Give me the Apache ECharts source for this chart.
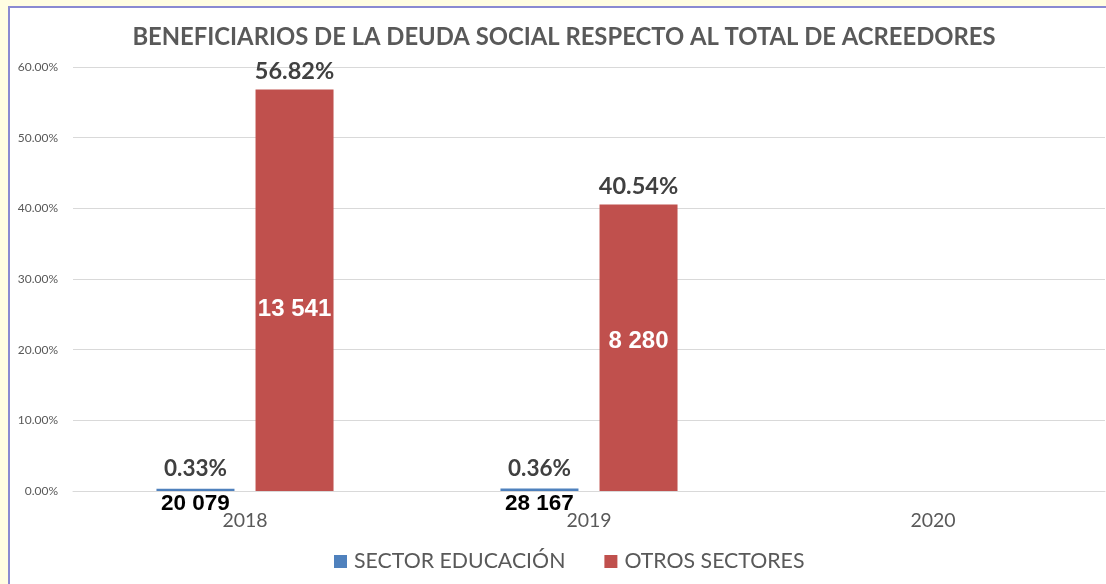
<!DOCTYPE html>
<html>
<head>
<meta charset="utf-8">
<script src="https://cdn.jsdelivr.net/npm/echarts@6/dist/echarts.min.js"></script>
<style>
  html, body { margin: 0; padding: 0; }
  #outer { position: absolute; left: 0; top: 0; width: 1106px; height: 584px; background: #fffde2; }
  #inner { position: absolute; left: 8px; top: 6px; right: 0; bottom: 0; background: #fff;
           border-left: 2px solid #8a8ad2; border-top: 2px solid #8a8ad2; }
  #chart { position: absolute; left: 0; top: 0; width: 1106px; height: 584px; }
</style>
</head>
<body>
<div id="outer"><div id="inner"></div></div>
<div id="chart"></div>
<script>
// datos del gráfico
const years = ['2018', '2019', '2020'];
const educacionPct = [0.33, 0.36, null];
const otrosPct = [56.82, 40.54, null];
const educacionBenef = [20079, 28167, null];
const otrosBenef = [13541, 8280, null];

const fmtNum = v => String(v).replace(/\B(?=(\d{3})+(?!\d))/g, ' ');
const chart = echarts.init(document.getElementById('chart'));

const barW = 78;
const gap = '27%';
// ajuste vertical de la etiqueta interior (como en el original)
const innerShift = [19, -6, 0];

const option = {
  backgroundColor: 'transparent',
  animation: false,
  title: {
    text: 'BENEFICIARIOS DE LA DEUDA SOCIAL RESPECTO AL TOTAL DE ACREEDORES',
    left: 559, top: 20, textAlign: 'center',
    textStyle: { fontFamily: 'Lato', fontWeight: 'bold', fontSize: 23.8, color: '#595959' }
  },
  legend: {
    data: ['SECTOR EDUCACIÓN', 'OTROS SECTORES'],
    bottom: 7, left: 329,
    icon: 'rect', itemWidth: 13, itemHeight: 13, itemGap: 39,
    textStyle: { fontFamily: 'Lato', fontSize: 21.3, color: '#595959', padding: [0, 0, 0, 2] }
  },
  grid: { left: 73, right: 1, top: 67, bottom: 93 },
  xAxis: [
    {
      type: 'category', data: years,
      axisLine: { lineStyle: { color: '#d9d9d9' } },
      axisTick: { show: false },
      axisLabel: { fontFamily: 'Lato', fontSize: 19.5, color: '#595959', margin: 20 }
    },
    { type: 'category', data: years, show: false }
  ],
  yAxis: {
    type: 'value', min: 0, max: 60, interval: 10,
    axisLine: { show: false }, axisTick: { show: false },
    splitLine: { lineStyle: { color: '#d9d9d9' } },
    axisLabel: { fontFamily: 'Lato', fontSize: 12, color: '#595959', margin: 15,
                 formatter: v => v.toFixed(2) + '%' }
  },
  series: [
    {
      name: 'SECTOR EDUCACIÓN', type: 'bar', data: educacionPct,
      barWidth: barW, barGap: gap,
      itemStyle: { color: '#4f81bd' },
      label: { show: true, position: 'top', distance: 8,
               fontFamily: 'Lato', fontWeight: 'bold', fontSize: 22.5, color: '#404040',
               formatter: p => p.value.toFixed(2) + '%' }
    },
    {
      name: 'OTROS SECTORES', type: 'bar', data: otrosPct,
      barWidth: barW, barGap: gap,
      itemStyle: { color: '#c0504d' },
      label: { show: true, position: 'top', distance: 6,
               fontFamily: 'Lato', fontWeight: 'bold', fontSize: 23.5, color: '#404040',
               formatter: p => p.value.toFixed(2) + '%' }
    },
    {
      type: 'bar', xAxisIndex: 1, data: educacionPct,
      barWidth: barW, barGap: gap, silent: true,
      itemStyle: { color: 'transparent' },
      label: { show: true, position: 'bottom', distance: 1,
               fontFamily: 'Liberation Sans', fontWeight: 'bold', fontSize: 22.5, color: '#000',
               formatter: p => fmtNum(educacionBenef[p.dataIndex]) }
    },
    {
      type: 'bar', xAxisIndex: 1,
      data: otrosPct.map((v, i) => ({ value: v, label: { offset: [0, innerShift[i]] } })),
      barWidth: barW, barGap: gap, silent: true,
      itemStyle: { color: 'transparent' },
      label: { show: true, position: 'inside',
               fontFamily: 'Liberation Sans', fontWeight: 'bold', fontSize: 24, color: '#fff',
               formatter: p => fmtNum(otrosBenef[p.dataIndex]) }
    }
  ]
};
chart.setOption(option);
</script>
</body>
</html>
